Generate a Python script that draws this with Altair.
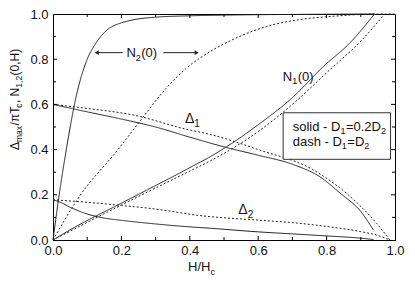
import altair as alt
import pandas as pd

# ---------------- data ----------------
# N2(0), solid (D1 = 0.2 D2)
n2_solid_h = [0.0, 0.022, 0.04, 0.067, 0.1, 0.123, 0.15, 0.2, 0.3, 0.4, 0.5, 0.6, 0.7, 0.8, 0.94]
n2_solid_v = [0.0, 0.24, 0.41, 0.63, 0.8, 0.865, 0.918, 0.961, 0.986, 0.992, 0.995, 0.997, 0.998, 0.999, 1.0]
# N2(0), dash (D1 = D2)
n2_dash_h = [0.0, 0.076, 0.19, 0.264, 0.33, 0.39, 0.45, 0.53, 0.625, 0.72, 0.82, 0.92, 1.0]
n2_dash_v = [0.0, 0.19, 0.40, 0.545, 0.67, 0.76, 0.825, 0.89, 0.945, 0.975, 0.99, 0.999, 1.0]
# N1(0)
n1_solid_h = [0.0, 0.05, 0.2, 0.4, 0.46, 0.51, 0.6, 0.7, 0.79, 0.87, 0.94]
n1_solid_v = [0.0, 0.045, 0.163, 0.32, 0.369, 0.415, 0.51, 0.63, 0.767, 0.875, 1.0]
n1_dash_h = [0.0, 0.2, 0.4, 0.46, 0.6, 0.7, 0.8, 0.9, 0.97]
n1_dash_v = [0.0, 0.155, 0.305, 0.35, 0.48, 0.6, 0.74, 0.88, 1.0]
# Delta1
d1_solid_h = [0.0, 0.1, 0.2, 0.3, 0.4, 0.5, 0.6, 0.7, 0.78, 0.84, 0.9, 0.937]
d1_solid_v = [0.6, 0.567, 0.535, 0.5, 0.455, 0.412, 0.375, 0.335, 0.28, 0.207, 0.126, 0.044]
d1_dash_h = [0.0, 0.1, 0.235, 0.39, 0.46, 0.6, 0.76, 0.89, 0.946, 0.985]
d1_dash_v = [0.6, 0.582, 0.553, 0.49, 0.467, 0.4, 0.311, 0.163, 0.074, 0.0]
# Delta2
d2_solid_h = [0.0, 0.02, 0.05, 0.1, 0.15, 0.2, 0.3, 0.4, 0.46, 0.6, 0.7, 0.8, 0.9, 0.937]
d2_solid_v = [0.178, 0.168, 0.145, 0.115, 0.097, 0.087, 0.071, 0.058, 0.052, 0.036, 0.027, 0.018, 0.008, 0.002]
d2_dash_h = [0.0, 0.1, 0.2, 0.3, 0.43, 0.6, 0.72, 0.8, 0.9, 0.95, 0.985]
d2_dash_v = [0.178, 0.167, 0.153, 0.137, 0.108, 0.088, 0.074, 0.06, 0.037, 0.02, 0.0]

tick_major = [0.0, 0.2, 0.4, 0.6, 0.8, 1.0]
tick_minor = [0.1, 0.3, 0.5, 0.7, 0.9]
tick_inner = [0.2, 0.4, 0.6, 0.8]

# annotation anchors (data coordinates)
lbl_n2 = (0.2146, 0.808)
lbl_n1 = (0.672, 0.704)
lbl_d1 = (0.386, 0.516)
lbl_d2 = (0.542, 0.115)
arrow_left = (0.204, 0.128, 0.829)   # from, to, level
arrow_right = (0.3225, 0.42, 0.829)
legend_box_h = [0.673, 0.987]
legend_box_v = [0.357, 0.563]
legend_line1 = (0.701, 0.484)
legend_line2 = (0.701, 0.416)

# ---------------- styling ----------------
W, H = 342, 226
FONT = "Liberation Sans"
INK = "#222222"
FS = 13
SUB = 9

WID = {' ': .278, '(': .333, ')': .333, ',': .278, '.': .278, '/': .278, '-': .333,
       '=': .584, 'D': .722, 'H': .722, 'N': .722, 'T': .611, 'a': .556, 'c': .5,
       'd': .556, 'h': .556, 'i': .222, 'l': .222, 'm': .833, 'o': .556, 's': .5,
       'x': .5, 'Δ': .668, 'π': .58}


def tw(s, fs):
    return sum(WID.get(ch, .556) for ch in s) * fs


xscale = alt.Scale(domain=[0, 1], nice=False, zero=False)
yscale = alt.Scale(domain=[0, 1], nice=False, zero=False)

axis_common = dict(values=tick_major, format=".1f", title=None, ticks=False, tickSize=0,
                   grid=False, domainColor="black", domainWidth=1, labelFont=FONT,
                   labelFontSize=FS, labelColor="#111111", labelFlush=False, labelOverlap=False)
XAX = alt.Axis(labelPadding=4, **axis_common)
YAX = alt.Axis(labelPadding=5, **axis_common)


def X(field):
    return alt.X(field, scale=xscale, axis=XAX)


def Y(field):
    return alt.Y(field, scale=yscale, axis=YAX)


curves = [
    ("n2s", "solid", n2_solid_h, n2_solid_v),
    ("n2d", "dash", n2_dash_h, n2_dash_v),
    ("n1s", "solid", n1_solid_h, n1_solid_v),
    ("n1d", "dash", n1_dash_h, n1_dash_v),
    ("d1s", "solid", d1_solid_h, d1_solid_v),
    ("d1d", "dash", d1_dash_h, d1_dash_v),
    ("d2s", "solid", d2_solid_h, d2_solid_v),
    ("d2d", "dash", d2_dash_h, d2_dash_v),
]
rows = []
for name, style, xs, ys in curves:
    for i, (a, b) in enumerate(zip(xs, ys)):
        rows.append({"curve": name, "style": style, "h": a, "v": b, "i": i})
df = pd.DataFrame(rows)

lines = alt.Chart(df).mark_line(color=INK, strokeWidth=1, interpolate="monotone").encode(
    x=X("h:Q"),
    y=Y("v:Q"),
    detail="curve:N",
    order="i:Q",
    strokeDash=alt.StrokeDash("style:N", scale=alt.Scale(domain=["solid", "dash"], range=[[1, 0], [2, 2]]), legend=None),
)

layers = [lines]


# inward ticks on all four sides
def tick_layer(vals, side, length):
    d = pd.DataFrame({"h": vals, "v": vals})
    m = alt.Chart(d).mark_rule(color="black", strokeWidth=1)
    if side == "bottom":
        return m.encode(x=X("h:Q"), y=alt.value(H), y2=alt.value(H - length))
    if side == "top":
        return m.encode(x=X("h:Q"), y=alt.value(0), y2=alt.value(length))
    if side == "left":
        return m.encode(y=Y("v:Q"), x=alt.value(0), x2=alt.value(length))
    return m.encode(y=Y("v:Q"), x=alt.value(W), x2=alt.value(W - length))


for side in ["bottom", "top", "left", "right"]:
    layers.append(tick_layer(tick_inner, side, 4))
    layers.append(tick_layer(tick_minor, side, 3))

# legend box
box = pd.DataFrame({"h": [legend_box_h[0]], "h2": [legend_box_h[1]],
                    "v": [legend_box_v[0]], "v2": [legend_box_v[1]]})
layers.append(alt.Chart(box).mark_rect(fill="white", stroke="#333333", strokeWidth=1).encode(
    x=X("h:Q"), x2="h2:Q", y=Y("v:Q"), y2="v2:Q"))

# arrows
arr = pd.DataFrame({"h": [arrow_left[0], arrow_right[0]], "h2": [arrow_left[1], arrow_right[1]],
                    "v": [arrow_left[2], arrow_right[2]]})
layers.append(alt.Chart(arr).mark_rule(color=INK, strokeWidth=1).encode(
    x=X("h:Q"), x2="h2:Q", y=Y("v:Q")))
for tip, shape in [(arrow_left[1], "triangle-left"), (arrow_right[1], "triangle-right")]:
    layers.append(alt.Chart(pd.DataFrame({"h": [tip], "v": [arrow_left[2]]})).mark_point(
        shape=shape, filled=True, color=INK, size=22, opacity=1).encode(
        x=X("h:Q"), y=Y("v:Q")))


# composite text with subscripts
def text_pieces(anchor, pieces, fs=FS, sub=SUB, angle=0, pixel=False, sub_dy=3.5):
    out = []
    off = 0.0
    for txt, is_sub in pieces:
        size = sub if is_sub else fs
        mk = dict(text=txt, font=FONT, fontSize=size, color="#111111", align="left",
                  baseline="alphabetic", dx=off, dy=(sub_dy if is_sub else 0))
        if angle:
            mk["angle"] = angle
        if pixel:
            c = alt.Chart(pd.DataFrame({"k": [0]})).mark_text(**mk).encode(
                x=alt.value(anchor[0]), y=alt.value(anchor[1]))
        else:
            c = alt.Chart(pd.DataFrame({"h": [anchor[0]], "v": [anchor[1]]})).mark_text(**mk).encode(
                x=X("h:Q"), y=Y("v:Q"))
        out.append(c)
        off += tw(txt, size) + (0.5 if is_sub else 0)
    return out


layers += text_pieces(lbl_n2, [("N", False), ("2", True), ("(0)", False)])
layers += text_pieces(lbl_n1, [("N", False), ("1", True), ("(0)", False)])
layers += text_pieces(lbl_d1, [("Δ", False), ("1", True)], fs=14, sub=10, sub_dy=4)
layers += text_pieces(lbl_d2, [("Δ", False), ("2", True)], fs=14, sub=10, sub_dy=4)
layers += text_pieces(legend_line1, [("solid - D", False), ("1", True), ("=0.2D", False), ("2", True)])
layers += text_pieces(legend_line2, [("dash - D", False), ("1", True), ("=D", False), ("2", True)])

# axis titles
layers += text_pieces((135, 257), [("H/H", False), ("c", True)], pixel=True)
layers += text_pieces((-34.5, 136), [("Δ", False), ("max", True), ("/πT", False), ("c", True),
                                     (", N", False), ("1,2", True), ("(0,H)", False)],
                      fs=12, sub=8.5, angle=270, pixel=True, sub_dy=3)

chart = alt.layer(*layers).properties(
    width=W, height=H,
    padding={"left": 45, "top": 6, "right": 12, "bottom": 42},
    autosize=alt.AutoSizeParams(type="none"),
    background="white",
).configure_view(stroke="black", strokeWidth=1)

chart.save("out.html", embed_options={"renderer": "svg", "actions": False})
